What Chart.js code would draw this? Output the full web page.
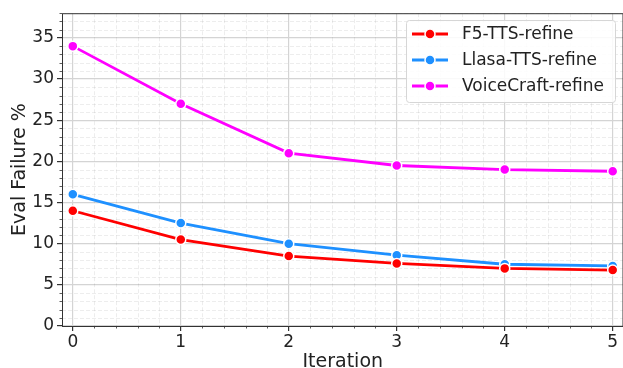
<!DOCTYPE html>
<html>
<head>
<meta charset="utf-8">
<script src="https://cdn.jsdelivr.net/npm/chart.js@4.4.0/dist/chart.umd.min.js"></script>
<style>
  html, body { margin: 0; padding: 0; background: #fff; overflow: hidden; }
  #wrap { width: 630px; height: 368px; }
</style>
</head>
<body>
<div id="wrap"><canvas id="evalChart"></canvas></div>
<script>
/* ================= DATA ================= */

const iterations = [0, 1, 2, 3, 4, 5];
const f5Values = [14.0, 10.5, 8.5, 7.6, 7.0, 6.8];
const llasaValues = [16.0, 12.5, 10.0, 8.6, 7.5, 7.3];
const voiceCraftValues = [34.0, 27.0, 21.0, 19.5, 19.0, 18.8];

const seriesNames = ["F5-TTS-refine", "Llasa-TTS-refine", "VoiceCraft-refine"];
const xTicks = [0, 1, 2, 3, 4, 5];
const yTicks = [0, 5, 10, 15, 20, 25, 30, 35];

const FONT = "'DejaVu Sans', sans-serif";

function toPoints(values) {
  return iterations.map((x, i) => ({ x: x, y: values[i] }));
}

function makeSeries(label, values, color) {
  return {
    label: label,
    data: toPoints(values),
    borderColor: color,
    backgroundColor: color,
    borderWidth: 2.8,
    pointRadius: 5,
    pointBorderColor: "#ffffff",
    pointBorderWidth: 1.5,
    pointHoverRadius: 5,
    tension: 0
  };
}

/* ================= MINOR GRID ================= */

const minorGrid = {
  id: "minorGrid",
  beforeDatasetsDraw(chart) {
    const { ctx, chartArea: a, scales } = chart;
    const xs = scales.x, ys = scales.y;
    ctx.save();
    ctx.lineWidth = 1;
    ctx.strokeStyle = "rgba(0,0,0,0.07)";
    ctx.setLineDash([4, 2]);
    for (let v = -0.0; v <= 5.1; v += 0.2) {
      const r = Math.round(v * 10) / 10;
      if (Math.abs(r - Math.round(r)) < 1e-6) continue;
      const px = Math.round(xs.getPixelForValue(r)) + 0.5;
      ctx.beginPath(); ctx.moveTo(px, a.top); ctx.lineTo(px, a.bottom); ctx.stroke();
    }
    for (let v = 1; v <= 38; v += 1) {
      if (v % 5 === 0) continue;
      const py = Math.round(ys.getPixelForValue(v)) + 0.5;
      ctx.beginPath(); ctx.moveTo(a.left, py); ctx.lineTo(a.right, py); ctx.stroke();
    }
    // minor tick marks
    ctx.setLineDash([]);
    ctx.strokeStyle = "#333";
    ctx.lineWidth = 0.8;
    for (let v = 0; v <= 5.1; v += 0.2) {
      const r = Math.round(v * 10) / 10;
      if (Math.abs(r - Math.round(r)) < 1e-6) continue;
      const px = Math.round(xs.getPixelForValue(r)) + 0.5;
      ctx.beginPath(); ctx.moveTo(px, a.bottom); ctx.lineTo(px, a.bottom + 2.5); ctx.stroke();
    }
    for (let v = 1; v <= 38; v += 1) {
      if (v % 5 === 0) continue;
      const py = Math.round(ys.getPixelForValue(v)) + 0.5;
      ctx.beginPath(); ctx.moveTo(a.left, py); ctx.lineTo(a.left - 2.5, py); ctx.stroke();
    }
    ctx.restore();
  },
  afterDatasetsDraw(chart) {
    // frame around plot area
    const { ctx, chartArea: a } = chart;
    ctx.save();
    ctx.strokeStyle = "#333";
    ctx.lineWidth = 1;
    ctx.strokeRect(a.left + 0.5, a.top + 0.5, a.right - a.left - 1, a.bottom - a.top);
    ctx.restore();
  }
};

/* ================= LEGEND ================= */

const insideLegend = {
  id: "insideLegend",
  afterDraw(chart) {
    const { ctx } = chart;
    const x0 = 406, y0 = 20, w = 209, h = 82;
    ctx.save();
    ctx.fillStyle = "rgba(255,255,255,0.85)";
    ctx.strokeStyle = "#d6d6d6";
    ctx.lineWidth = 1;
    ctx.beginPath();
    ctx.roundRect(x0 + 0.5, y0 + 0.5, w, h, 3);
    ctx.fill();
    ctx.stroke();
    ctx.font = "17px " + FONT;
    ctx.textBaseline = "middle";
    chart.data.datasets.forEach((ds, i) => {
      const cy = y0 + 14 + i * 26;
      ctx.strokeStyle = ds.borderColor;
      ctx.lineWidth = 2.8;
      ctx.beginPath(); ctx.moveTo(412, cy); ctx.lineTo(448, cy); ctx.stroke();
      ctx.fillStyle = ds.borderColor;
      ctx.strokeStyle = "#fff";
      ctx.lineWidth = 1.5;
      ctx.beginPath(); ctx.arc(430, cy, 5, 0, Math.PI * 2); ctx.fill(); ctx.stroke();
      ctx.fillStyle = "#222";
      ctx.fillText(ds.label, 462, cy + 1);
    });
    ctx.restore();
  }
};

/* ================= CHART ================= */

const ctx = document.getElementById("evalChart").getContext("2d");

const evalChart = new Chart(ctx, {
  type: "line",
  data: {
    datasets: [
      makeSeries(seriesNames[0], f5Values, "#ff0000"),
      makeSeries(seriesNames[1], llasaValues, "#1e90ff"),
      makeSeries(seriesNames[2], voiceCraftValues, "#ff00ff")
    ]
  },
  options: {
    responsive: true,
    maintainAspectRatio: false,
    animation: false,
    layout: { padding: { left: 0, right: 1, top: 8, bottom: 0 } },
    plugins: {
      legend: { display: false },
      tooltip: { enabled: false }
    },
    scales: {
      x: {
        type: "linear",
        min: -0.1,
        max: 5.1,
        afterBuildTicks(scale) { scale.ticks = xTicks.map(v => ({ value: v })); },
        afterFit(scale) { scale.height = 42; },
        grid: { color: "#d4d4d4", lineWidth: 1.2, tickColor: "#333", tickLength: 5 },
        border: { display: false },
        ticks: { color: "#222", font: { family: FONT, size: 17 }, padding: 1, maxRotation: 0 },
        title: { display: true, text: "Iteration", color: "#222", font: { family: FONT, size: 19 }, padding: { top: 6, bottom: -5 } }
      },
      y: {
        min: 0,
        max: 38,
        afterBuildTicks(scale) { scale.ticks = yTicks.map(v => ({ value: v })); },
        afterFit(scale) { scale.width = 62; },
        grid: { color: "#d4d4d4", lineWidth: 1.2, tickColor: "#333", tickLength: 5 },
        border: { display: false },
        ticks: { color: "#222", font: { family: FONT, size: 17 }, padding: 3 },
        title: { display: true, text: "Eval Failure %", color: "#222", font: { family: FONT, size: 19 }, padding: { top: 9, bottom: 2 } }
      }
    }
  },
  plugins: [minorGrid, insideLegend]
});
</script>
</body>
</html>
